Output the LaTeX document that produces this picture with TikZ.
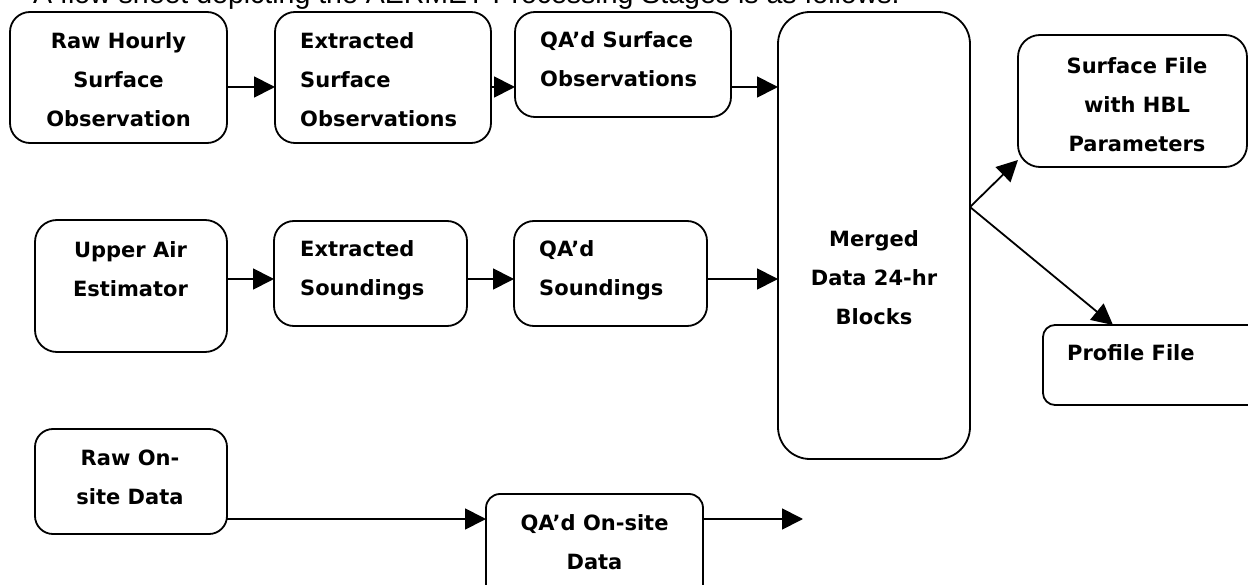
\documentclass[tikz,border=0pt]{standalone}
\usepackage{fontspec}
\setmainfont{DejaVu Sans}
\newfontfamily\headfont{Liberation Sans}
\usetikzlibrary{arrows.meta}
\newcommand{\lines}[2]{\begin{tabular}[t]{@{}#1@{}}#2\end{tabular}}
\begin{document}
\begin{tikzpicture}[x=1pt,y=-1pt,
  box/.style={draw, line width=1.8pt, rounded corners=#1, inner sep=0pt, outer sep=0pt, anchor=north west},
  box/.default=20pt,
  lbl/.style={inner sep=0pt, anchor=base, font=\bfseries\fontsize{21}{39}\selectfont},
  lbll/.style={lbl, anchor=base west},
  arr/.style={line width=1.8pt, -{Triangle[length=21pt,width=21pt]}}]
\path[use as bounding box] (0,0) rectangle (1248,585);
\clip (0,0) rectangle (1248,585);

% title (cut off at the top)
\node[inner sep=0pt, anchor=base west, font=\headfont\fontsize{28.5}{35}\selectfont] (title) at (33,4)
  {A flow sheet depicting the AERMET Processing Stages is as follows:};

% boxes
\node[box, minimum width=217pt, minimum height=131pt] (b1) at (10,12) {};
\node[box, minimum width=216pt, minimum height=131pt] (b2) at (275,12) {};
\node[box, minimum width=216pt, minimum height=105pt] (b3) at (515,12) {};
\node[box=32pt, minimum width=192pt, minimum height=447pt] (m) at (778,12) {};
\node[box=22pt, minimum width=229pt, minimum height=132pt] (sf) at (1018,35) {};
\node[box=22pt, minimum width=192pt, minimum height=132pt] (ua) at (35,220) {};
\node[box, minimum width=193pt, minimum height=105pt] (es) at (274,221) {};
\node[box, minimum width=193pt, minimum height=105pt] (qs) at (514,221) {};
\node[box=12pt, minimum width=222pt, minimum height=80pt] (pf) at (1043,325) {};
\node[box=18pt, minimum width=192pt, minimum height=105pt] (ro) at (35,429) {};
\node[box=14pt, minimum width=217pt, minimum height=112pt] (qo) at (486,494) {};

% labels
\node[lbl] (t1) at (118.5,49) {\lines{c}{Raw Hourly\\Surface\\Observation}};
\node[lbll] (t2) at (300,49) {\lines{l}{Extracted\\Surface\\Observations}};
\node[lbll] (t3) at (540,48) {\lines{l}{QA’d Surface\\Observations}};
\node[lbl] (t4) at (874,247) {\lines{c}{Merged\\Data 24-hr\\Blocks}};
\node[lbl] (t5) at (1137,74) {\lines{c}{Surface File\\with HBL\\Parameters}};
\node[lbl] (t6) at (130.5,258) {\lines{c}{Upper Air\\Estimator}};
\node[lbll] (t7) at (300,257) {\lines{l}{Extracted\\Soundings}};
\node[lbll] (t8) at (539,257) {\lines{l}{QA’d\\Soundings}};
\node[lbll] (t9) at (1067,361) {Profile File};
\node[lbl] (t10) at (130,465) {\lines{c}{Raw On-\\site Data}};
\node[lbl] (t11) at (594.5,530) {\lines{c}{QA’d On-site\\Data}};

% connector heights
\coordinate (r1) at (0,87);
\coordinate (r2) at (0,279);
\coordinate (r3) at (0,519);
\coordinate (br) at (0,207);
\coordinate (st) at (0,160);
\coordinate (free) at (803,519);

% connectors
\draw[arr] (b1.east |- r1) -- (b2.west |- r1);
\draw[arr] (b2.east |- r1) -- (b3.west |- r1);
\draw[arr] (b3.east |- r1) -- (m.west |- r1);
\draw[arr] (ua.east |- r2) -- (es.west |- r2);
\draw[arr] (es.east |- r2) -- (qs.west |- r2);
\draw[arr] (qs.east |- r2) -- (m.west |- r2);
\draw[arr] (m.east |- br) -- (sf.west |- st);
\draw[arr] (m.east |- br) -- ([xshift=70pt]pf.north west);
\draw[arr] (ro.east |- r3) -- (qo.west |- r3);
\draw[arr] (qo.east |- r3) -- (free);
\end{tikzpicture}
\end{document}
